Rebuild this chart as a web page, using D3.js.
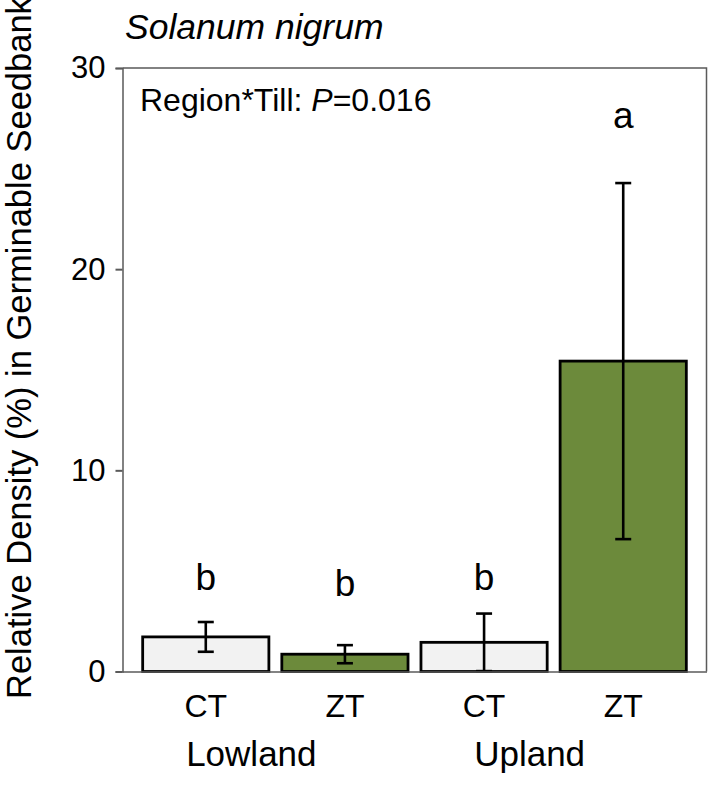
<!DOCTYPE html>
<html>
<head>
<meta charset="utf-8">
<script src="https://cdn.jsdelivr.net/npm/d3@7"></script>
<style>
  html, body { margin: 0; padding: 0; background: #fff; }
  svg { display: block; }
  text { font-family: "Liberation Sans", Arial, sans-serif; fill: #000; }
</style>
</head>
<body>
<svg id="chart" width="709" height="788"></svg>
<script>
// ---- data ----
const categories = ["Lowland CT", "Lowland ZT", "Upland CT", "Upland ZT"];
const tillLabels = ["CT", "ZT", "CT", "ZT"];
const tillType = ["CT", "ZT", "CT", "ZT"];
const means = [1.72, 0.86, 1.45, 15.43];
const errors = [0.74, 0.45, 1.43, 8.85];
const letters = ["b", "b", "b", "a"];
const letterY = [4.05, 3.75, 4.05, 27.0];
const regions = ["Lowland", "Upland"];
const regionMembers = [["Lowland CT", "Lowland ZT"], ["Upland CT", "Upland ZT"]];
const yTicks = [0, 10, 20, 30];
const title = "Solanum nigrum";
const yLabel = "Relative Density (%) in Germinable Seedbank";

const colors = { CT: "#f2f2f2", ZT: "#6c8a3b" };

const svg = d3.select("#chart");
const plot = { left: 122.5, right: 706.5, top: 68, bottom: 671.5 };

const x = d3.scaleBand().domain(categories).range([plot.left, plot.right])
  .paddingInner(0.093).paddingOuter(0.145);
const y = d3.scaleLinear().domain([0, 30]).range([plot.bottom, plot.top]);

// frame (top & right)
svg.append("path")
  .attr("d", `M${plot.left},${plot.top}H${plot.right}V${plot.bottom}`)
  .attr("fill", "none").attr("stroke", "#5a5a5a").attr("stroke-width", 1.5);

// bars
svg.selectAll("rect.bar").data(categories).join("rect")
  .attr("class", "bar")
  .attr("x", d => x(d))
  .attr("width", x.bandwidth())
  .attr("y", (d, i) => y(means[i]))
  .attr("height", (d, i) => y(0) - y(means[i]))
  .attr("fill", (d, i) => colors[tillType[i]])
  .attr("stroke", "#000").attr("stroke-width", 2.8);

// error bars
const cap = 8;
const eb = svg.append("g").attr("stroke", "#000").attr("stroke-width", 2.6).attr("fill", "none");
categories.forEach((c, i) => {
  const cx = x(c) + x.bandwidth() / 2;
  const hi = y(means[i] + errors[i]);
  const lo = y(Math.max(0, means[i] - errors[i]));
  eb.append("line").attr("x1", cx).attr("x2", cx).attr("y1", hi).attr("y2", lo);
  eb.append("line").attr("x1", cx - cap).attr("x2", cx + cap).attr("y1", hi).attr("y2", hi);
  eb.append("line").attr("x1", cx - cap).attr("x2", cx + cap).attr("y1", lo).attr("y2", lo);
});

// y axis
const yAxis = svg.append("g").attr("transform", `translate(${plot.left},0)`)
  .call(d3.axisLeft(y).tickValues(yTicks).tickSize(7).tickPadding(10));
yAxis.select(".domain").attr("stroke", "#5a5a5a").attr("stroke-width", 1.5);
yAxis.selectAll(".tick line").attr("stroke", "#5a5a5a").attr("stroke-width", 2);
yAxis.selectAll(".tick text").style("font-size", "31px").attr("fill", "#000");

// x axis
const xAxis = svg.append("g").attr("transform", `translate(0,${plot.bottom})`)
  .call(d3.axisBottom(x).tickSize(0).tickPadding(0).tickFormat((d, i) => tillLabels[i]));
xAxis.select(".domain").attr("stroke", "#5a5a5a").attr("stroke-width", 1.5);
xAxis.selectAll(".tick text").attr("dy", null).attr("y", 45).style("font-size", "32px").attr("fill", "#000");

// region labels
regions.forEach((r, i) => {
  const m = regionMembers[i];
  const cx = (x(m[0]) + x(m[1]) + x.bandwidth()) / 2;
  svg.append("text").attr("x", cx - 24).attr("y", 766)
    .attr("text-anchor", "middle").style("font-size", "35px").text(r);
});

// significance letters
svg.selectAll("text.letter").data(categories).join("text")
  .attr("class", "letter")
  .attr("x", d => x(d) + x.bandwidth() / 2)
  .attr("y", (d, i) => y(letterY[i]))
  .attr("text-anchor", "middle").style("font-size", "37px")
  .text((d, i) => letters[i]);

// annotation
const ann = svg.append("text").attr("x", 140).attr("y", 111).style("font-size", "32px");
ann.append("tspan").text("Region*Till: ");
ann.append("tspan").style("font-style", "italic").text("P");
ann.append("tspan").text("=0.016");

// title
svg.append("text").attr("x", 125).attr("y", 39).style("font-size", "35.5px")
  .style("font-style", "italic").text(title);

// y label
svg.append("text").attr("transform", "translate(31,699) rotate(-90)")
  .attr("text-anchor", "start").style("font-size", "34.5px").text(yLabel);
</script>
</body>
</html>
